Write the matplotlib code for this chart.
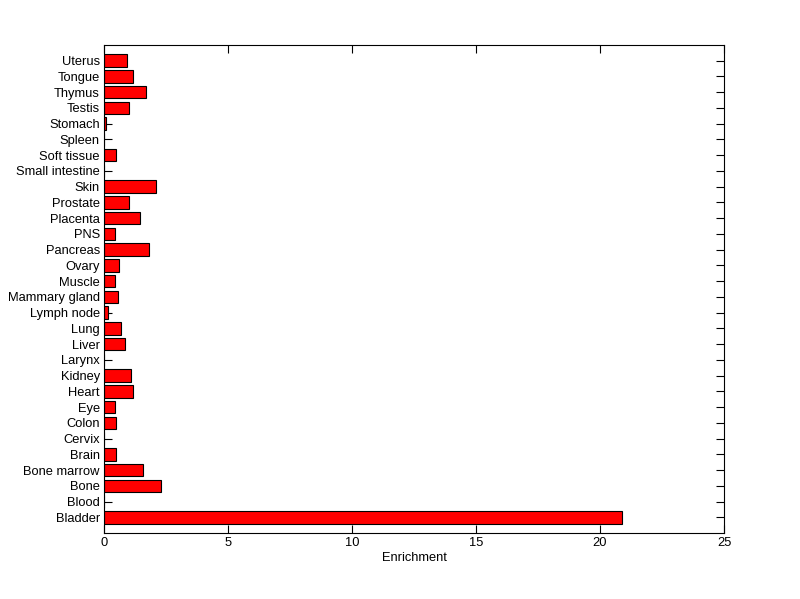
import matplotlib
matplotlib.use("Agg")
import matplotlib.pyplot as plt
import numpy as np

# tissues, bottom to top
tissues = ["Bladder", "Blood", "Bone", "Bone marrow", "Brain", "Cervix", "Colon", "Eye",
           "Heart", "Kidney", "Larynx", "Liver", "Lung", "Lymph node", "Mammary gland",
           "Muscle", "Ovary", "Pancreas", "PNS", "Placenta", "Prostate", "Skin",
           "Small intestine", "Soft tissue", "Spleen", "Stomach", "Testis", "Thymus",
           "Tongue", "Uterus"]
enrichment = [20.9, 0, 2.31, 1.57, 0.48, 0, 0.48, 0.44,
              1.18, 1.1, 0, 0.84, 0.68, 0.15, 0.56,
              0.44, 0.6, 1.82, 0.44, 1.45, 1.0, 2.09,
              0, 0.48, 0, 0.08, 1.0, 1.69,
              1.18, 0.94]

plt.rcParams["font.family"] = ["Liberation Sans", "DejaVu Sans"]
plt.rcParams["font.size"] = 9.3

fig = plt.figure(figsize=(8, 5.99), dpi=100)
ax = fig.add_axes([0.13, 0.11, 0.775, 0.815])

pos = np.arange(1, len(tissues) + 1)
ax.barh(pos, enrichment, height=0.8, color="red", edgecolor="black", linewidth=0.8)

ax.set_xlim(0, 25)
ax.set_ylim(0, len(tissues) + 1)
ax.set_xticks([0, 5, 10, 15, 20, 25])
ax.set_yticks(pos)
ax.set_yticklabels(tissues)
ax.set_xlabel("Enrichment", labelpad=2)
ax.set_axisbelow(True)
ax.tick_params(direction="in", length=5.5, width=0.8, top=True, right=True, pad=3)
for s in ax.spines.values():
    s.set_linewidth(0.8)

fig.savefig("out.png", dpi=100)
